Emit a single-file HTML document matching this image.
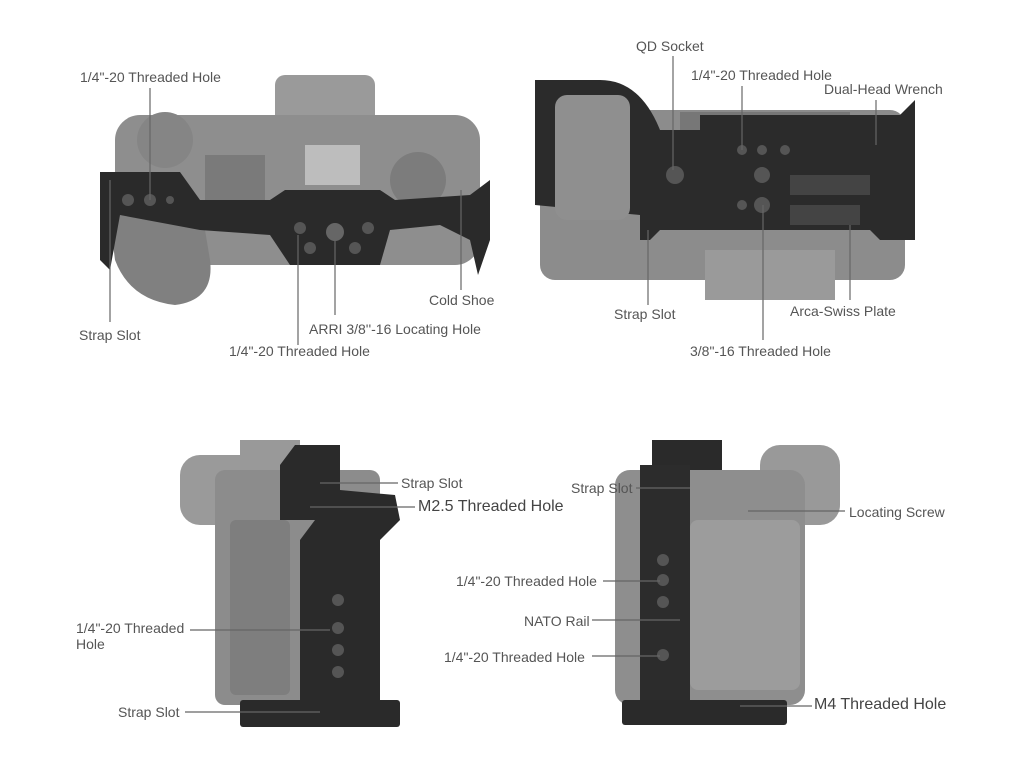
<!DOCTYPE html>
<html><head><meta charset="utf-8"><style>
body{margin:0;width:1024px;height:768px;background:#fff;position:relative;overflow:hidden;font-family:"Liberation Sans",sans-serif}
.t{position:absolute;font-size:14px;color:#555;white-space:nowrap;line-height:16px}
.b{font-size:16px;color:#444}
svg{position:absolute;left:0;top:0}
</style></head><body>
<svg width="1024" height="768">
<rect x="275" y="75" width="100" height="70" rx="10" fill="#9a9a9a"/>
<rect x="115" y="115" width="365" height="150" rx="25" fill="#8e8e8e"/>
<circle cx="165" cy="140" r="28" fill="#858585"/>
<rect x="205" y="155" width="60" height="50" fill="#7a7a7a"/>
<rect x="305" y="145" width="55" height="40" fill="#bdbdbd"/>
<circle cx="418" cy="180" r="28" fill="#7c7c7c"/>
<path d="M105 180 L115 260 Q130 300 175 305 Q215 300 210 260 L200 200 Z" fill="#808080"/>
<path d="M100 172 L180 172 L200 200 L270 200 L285 190 L380 190 L395 200 L470 195 L490 180 L490 240 L478 275 L470 240 L440 225 L390 230 L380 265 L290 265 L270 235 L200 230 L120 215 L110 270 L100 260 Z" fill="#2a2a2a"/>
<circle cx="128" cy="200" r="6" fill="#555"/><circle cx="150" cy="200" r="6" fill="#555"/><circle cx="170" cy="200" r="4" fill="#555"/>
<circle cx="300" cy="228" r="6" fill="#555"/><circle cx="335" cy="232" r="9" fill="#666"/><circle cx="368" cy="228" r="6" fill="#555"/>
<circle cx="310" cy="248" r="6" fill="#555"/><circle cx="355" cy="248" r="6" fill="#555"/>
<rect x="540" y="110" width="365" height="170" rx="15" fill="#8c8c8c"/>
<rect x="705" y="250" width="130" height="50" fill="#9a9a9a"/>
<rect x="680" y="112" width="170" height="20" fill="#777"/>
<path d="M535 80 L600 80 Q640 80 660 130 L700 130 L700 115 L900 115 L915 100 L915 240 L880 240 L870 230 L660 230 L650 240 L640 240 L640 215 L535 205 Z" fill="#2b2b2b"/>
<rect x="555" y="95" width="75" height="125" rx="12" fill="#8f8f8f"/>
<circle cx="675" cy="175" r="9" fill="#555"/><circle cx="742" cy="150" r="5" fill="#555"/><circle cx="762" cy="150" r="5" fill="#555"/><circle cx="785" cy="150" r="5" fill="#555"/>
<circle cx="762" cy="175" r="8" fill="#555"/><circle cx="742" cy="205" r="5" fill="#555"/><circle cx="762" cy="205" r="8" fill="#555"/>
<rect x="790" y="175" width="80" height="20" fill="#444"/><rect x="790" y="205" width="70" height="20" fill="#444"/>
<rect x="180" y="455" width="100" height="70" rx="20" fill="#9a9a9a"/>
<rect x="215" y="470" width="165" height="235" rx="10" fill="#8c8c8c"/>
<rect x="230" y="520" width="60" height="175" rx="6" fill="#7e7e7e"/>
<rect x="240" y="440" width="60" height="30" fill="#999"/>
<path d="M295 445 L340 445 L340 490 L395 495 L400 520 L380 540 L380 700 L300 700 L300 540 L315 520 L280 520 L280 465 Z" fill="#2a2a2a"/>
<circle cx="338" cy="600" r="6" fill="#555"/><circle cx="338" cy="628" r="6" fill="#555"/><circle cx="338" cy="650" r="6" fill="#555"/><circle cx="338" cy="672" r="6" fill="#555"/>
<rect x="240" y="700" width="160" height="27" rx="3" fill="#2a2a2a"/>
<rect x="760" y="445" width="80" height="80" rx="20" fill="#999"/>
<rect x="615" y="470" width="190" height="235" rx="15" fill="#8e8e8e"/>
<rect x="690" y="520" width="110" height="170" rx="8" fill="#9c9c9c"/>
<rect x="652" y="440" width="70" height="30" fill="#2a2a2a"/>
<rect x="640" y="465" width="50" height="245" fill="#2c2c2c"/>
<circle cx="663" cy="560" r="6" fill="#555"/><circle cx="663" cy="580" r="6" fill="#555"/><circle cx="663" cy="602" r="6" fill="#555"/><circle cx="663" cy="655" r="6" fill="#555"/>
<rect x="622" y="700" width="165" height="25" rx="3" fill="#2a2a2a"/>
<g stroke="#666" stroke-width="1.2" fill="none">
<line x1="150" y1="88" x2="150" y2="200"/>
<line x1="110" y1="180" x2="110" y2="322"/>
<line x1="298" y1="235" x2="298" y2="345"/>
<line x1="335" y1="232" x2="335" y2="315"/>
<line x1="461" y1="190" x2="461" y2="290"/>
<line x1="673" y1="56" x2="673" y2="170"/>
<line x1="742" y1="86" x2="742" y2="150"/>
<line x1="876" y1="100" x2="876" y2="145"/>
<line x1="648" y1="230" x2="648" y2="305"/>
<line x1="763" y1="205" x2="763" y2="340"/>
<line x1="850" y1="225" x2="850" y2="300"/>
<line x1="320" y1="483" x2="398" y2="483"/>
<line x1="310" y1="507" x2="415" y2="507"/>
<line x1="190" y1="630" x2="330" y2="630"/>
<line x1="185" y1="712" x2="320" y2="712"/>
<line x1="636" y1="488" x2="690" y2="488"/>
<line x1="748" y1="511" x2="845" y2="511"/>
<line x1="603" y1="581" x2="660" y2="581"/>
<line x1="592" y1="620" x2="680" y2="620"/>
<line x1="592" y1="656" x2="660" y2="656"/>
<line x1="740" y1="706" x2="812" y2="706"/>
</g>
</svg>
<div class="t" style="left:80px;top:69px">1/4"-20 Threaded Hole</div>
<div class="t" style="left:79px;top:327px">Strap Slot</div>
<div class="t" style="left:229px;top:343px">1/4"-20 Threaded Hole</div>
<div class="t" style="left:309px;top:321px">ARRI 3/8''-16 Locating Hole</div>
<div class="t" style="left:429px;top:292px">Cold Shoe</div>
<div class="t" style="left:636px;top:38px">QD Socket</div>
<div class="t" style="left:691px;top:67px">1/4"-20 Threaded Hole</div>
<div class="t" style="left:824px;top:81px">Dual-Head Wrench</div>
<div class="t" style="left:614px;top:306px">Strap Slot</div>
<div class="t" style="left:790px;top:303px">Arca-Swiss Plate</div>
<div class="t" style="left:690px;top:343px">3/8"-16 Threaded Hole</div>
<div class="t" style="left:401px;top:475px">Strap Slot</div>
<div class="t b" style="left:418px;top:499px">M2.5 Threaded Hole</div>
<div class="t" style="left:76px;top:620px">1/4"-20 Threaded<br>Hole</div>
<div class="t" style="left:118px;top:704px">Strap Slot</div>
<div class="t" style="left:571px;top:480px">Strap Slot</div>
<div class="t" style="left:849px;top:504px">Locating Screw</div>
<div class="t" style="left:456px;top:573px">1/4"-20 Threaded Hole</div>
<div class="t" style="left:524px;top:613px">NATO Rail</div>
<div class="t" style="left:444px;top:649px">1/4"-20 Threaded Hole</div>
<div class="t b" style="left:814px;top:697px">M4 Threaded Hole</div>
</body></html>
